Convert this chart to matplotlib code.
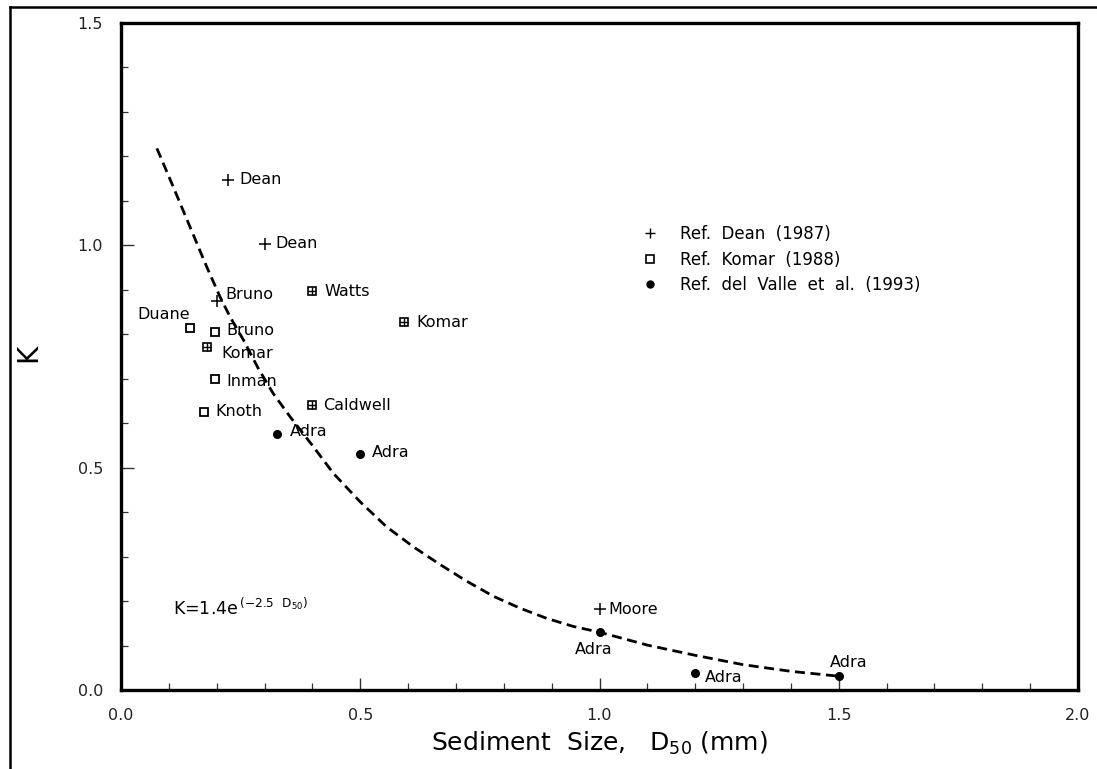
import matplotlib
matplotlib.use("Agg")
import matplotlib.pyplot as plt
from matplotlib.lines import Line2D
from matplotlib.ticker import MultipleLocator

# ── Data ──────────────────────────────────────────────────────────────────────
dean_x = [0.224, 0.300, 0.201, 1.000]
dean_y = [1.148, 1.003, 0.875, 0.182]
dean_lab = ["Dean", "Dean", "Bruno", "Moore"]

komar_x = [0.144, 0.196, 0.196, 0.173]
komar_y = [0.815, 0.805, 0.699, 0.626]
komar_lab = ["Duane", "Bruno", "Inman", "Knoth"]

# boxed-plus points (both references)
both_x = [0.179, 0.400, 0.592, 0.400]
both_y = [0.772, 0.897, 0.827, 0.640]
both_lab = ["Komar", "Watts", "Komar", "Caldwell"]

valle_x = [0.327, 0.500, 1.000, 1.200, 1.500]
valle_y = [0.576, 0.530, 0.130, 0.039, 0.031]
valle_lab = ["Adra", "Adra", "Adra", "Adra", "Adra"]

# fitted curve K = 1.4 e^(-2.5 D50)
curve_x = [0.075, 0.109, 0.144, 0.179, 0.207, 0.228, 0.256, 0.287, 0.318, 0.353,
           0.400, 0.444, 0.500, 0.555, 0.611, 0.667, 0.722, 0.778, 0.834, 0.890,
           0.945, 1.000, 1.100, 1.200, 1.300, 1.400, 1.500]
curve_y = [1.218, 1.132, 1.042, 0.952, 0.884, 0.839, 0.787, 0.723, 0.667, 0.615,
           0.550, 0.487, 0.423, 0.367, 0.322, 0.282, 0.245, 0.211, 0.184, 0.161,
           0.143, 0.130, 0.101, 0.078, 0.057, 0.042, 0.031]

legend_labels = ["Ref.  Dean  (1987)", "Ref.  Komar  (1988)", "Ref.  del  Valle  et  al.  (1993)"]

# label offsets in pixels (dx, dy, ha)
dean_off = [(11, 0, "left"), (11, 0, "left"), (8, 6, "left"), (9, 0, "left")]
komar_off = [(0, 13, "right"), (12, 2, "left"), (12, -2, "left"), (12, 0, "left")]
both_off = [(15, -7, "left"), (12, 0, "left"), (12, 0, "left"), (11, 0, "left")]
valle_off = [(12, 2, "left"), (12, 2, "left"), (-6, -17, "center"), (10, -5, "left"), (10, 14, "center")]

plt.rcParams.update({
    "font.family": "DejaVu Sans",
    "mathtext.default": "regular",
})

fig = plt.figure(figsize=(10.97, 7.69), dpi=100)
ax = fig.add_axes([121 / 1097, 1 - 690 / 769, (1078 - 121) / 1097, (690 - 23) / 769])

# ── Curve and points ──────────────────────────────────────────────────────────
line, = ax.plot(curve_x, curve_y, color="black", lw=2.0)
line.set_dashes([3.6, 2.0])

ax.plot(dean_x, dean_y, ls="none", marker="+", ms=8, mew=1.1, color="black")
ax.plot(komar_x, komar_y, ls="none", marker="s", ms=6, mew=1.3, mfc="white", mec="black")
ax.plot(both_x, both_y, ls="none", marker="s", ms=6, mew=1.2, mfc="white", mec="black")
ax.plot(both_x, both_y, ls="none", marker="+", ms=6, mew=1.0, color="black")
ax.plot(valle_x, valle_y, ls="none", marker="o", ms=5.5, color="black")


def label_points(xs, ys, labs, offs):
    for x, y, lab, (dx, dy, ha) in zip(xs, ys, labs, offs):
        ax.annotate(lab, (x, y), xytext=(dx, dy), textcoords="offset pixels",
                    ha=ha, va="center", fontsize=11.5)


label_points(dean_x, dean_y, dean_lab, dean_off)
label_points(komar_x, komar_y, komar_lab, komar_off)
label_points(both_x, both_y, both_lab, both_off)
label_points(valle_x, valle_y, valle_lab, valle_off)

ax.text(0.108, 0.185, r"K=1.4e$^{\,(-2.5\ \ D_{50})}$", fontsize=12.5, va="center", ha="left")

# ── Legend ────────────────────────────────────────────────────────────────────
handles = [
    Line2D([], [], ls="none", marker="+", ms=7, mew=1.0, color="black"),
    Line2D([], [], ls="none", marker="s", ms=5.5, mew=1.2, mfc="white", mec="black"),
    Line2D([], [], ls="none", marker="o", ms=5, color="black"),
]
ax.legend(handles, legend_labels, loc="upper left", bbox_to_anchor=(0.544, 0.697),
          frameon=False, fontsize=12, handlelength=1.0, handletextpad=1.3,
          labelspacing=0.45, borderpad=0, borderaxespad=0)

# ── Axes ──────────────────────────────────────────────────────────────────────
ax.set_xlim(0, 2.0)
ax.set_ylim(0, 1.5)
ax.xaxis.set_major_locator(MultipleLocator(0.5))
ax.xaxis.set_minor_locator(MultipleLocator(0.1))
ax.yaxis.set_major_locator(MultipleLocator(0.5))
ax.yaxis.set_minor_locator(MultipleLocator(0.1))
ax.xaxis.set_major_formatter(lambda v, p: f"{v:.1f}")
ax.yaxis.set_major_formatter(lambda v, p: f"{v:.1f}")
ax.tick_params(which="both", direction="in", top=False, right=False, color="#333333")
ax.tick_params(which="major", length=9, width=1.0, labelsize=11.5, pad=13, labelcolor="#222222")
ax.tick_params(which="minor", length=5, width=0.9)
for sp in ax.spines.values():
    sp.set_linewidth(2.4)

ax.set_xlabel("Sediment  Size,   D$_{50}$ (mm)", fontsize=18)
ax.xaxis.set_label_coords(0.5, -0.06)
ax.set_ylabel("K", fontsize=20)
ax.yaxis.set_label_coords(-0.082, 0.505)

# outer frame lines (left and top)
fig.add_artist(Line2D([10 / 1097, 10 / 1097], [0, 1 - 7 / 769], transform=fig.transFigure,
                      color="black", lw=1.8))
fig.add_artist(Line2D([10 / 1097, 1], [1 - 7 / 769, 1 - 7 / 769], transform=fig.transFigure,
                      color="black", lw=1.8))

fig.savefig("out.png", dpi=100)
